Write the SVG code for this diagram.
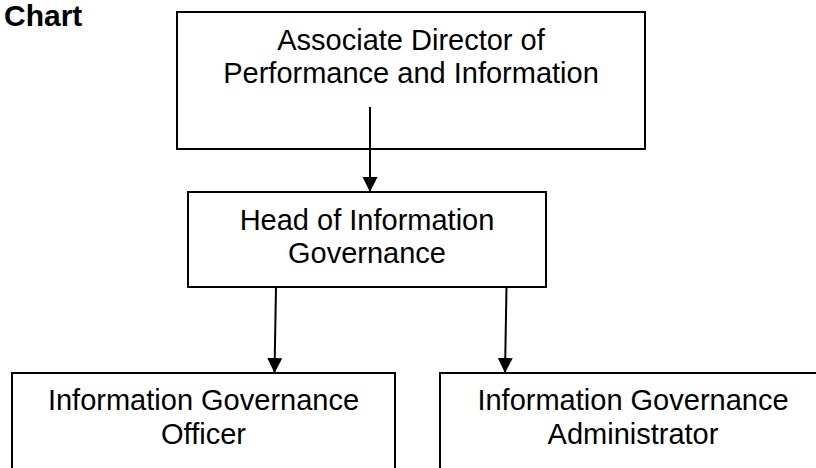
<svg xmlns="http://www.w3.org/2000/svg" width="816" height="468" viewBox="0 0 816 468">
  <style>
    .box { fill: #ffffff; stroke: #000000; stroke-width: 2; }
    .lbl { font-family: "Liberation Sans", Arial, sans-serif; font-size: 29px; fill: #000000; text-anchor: middle; }
    .title { font-family: "Liberation Sans", Arial, sans-serif; font-size: 30px; font-weight: bold; fill: #000000; }
    .conn { stroke: #000000; stroke-width: 2; fill: none; marker-end: url(#arrow); }
  </style>
  <defs>
    <marker id="arrow" markerUnits="userSpaceOnUse" markerWidth="16" markerHeight="16" refX="15" refY="7.5" orient="auto">
      <path d="M0,0 L15,7.5 L0,15 Z" fill="#000000"/>
    </marker>
  </defs>
  <rect width="816" height="468" fill="#ffffff"/>
  <text class="title" x="4" y="26">Chart</text>

  <g id="node-director">
    <rect class="box" x="177" y="12" width="468" height="137"/>
    <text class="lbl" x="411" y="50">Associate Director of</text>
    <text class="lbl" x="411" y="83">Performance and Information</text>
  </g>

  <g id="node-head">
    <rect class="box" x="188" y="192" width="358" height="95"/>
    <text class="lbl" x="367" y="230">Head of Information</text>
    <text class="lbl" x="367" y="263">Governance</text>
  </g>

  <g id="node-officer">
    <rect class="box" x="12" y="373" width="383" height="110"/>
    <text class="lbl" x="203.5" y="410">Information Governance</text>
    <text class="lbl" x="203.5" y="444">Officer</text>
  </g>

  <g id="node-administrator">
    <rect class="box" x="440" y="373" width="386" height="110"/>
    <text class="lbl" x="633" y="410">Information Governance</text>
    <text class="lbl" x="633" y="444">Administrator</text>
  </g>

  <g id="connectors">
    <line class="conn" x1="370" y1="107" x2="370" y2="192"/>
    <line class="conn" x1="276" y1="287" x2="274.5" y2="373"/>
    <line class="conn" x1="506.5" y1="287" x2="505" y2="373"/>
  </g>
</svg>
